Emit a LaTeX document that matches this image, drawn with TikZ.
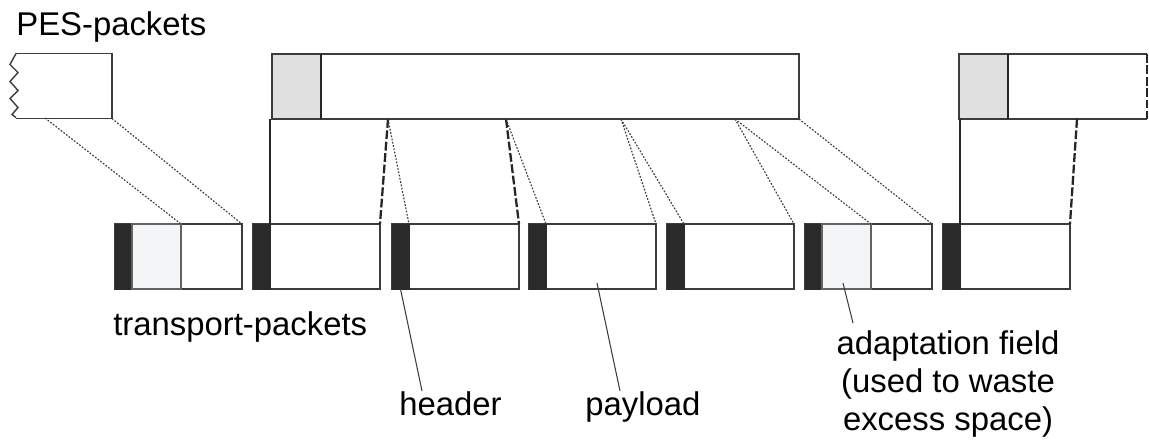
\documentclass[tikz,border=0pt]{standalone}
\usepackage{fontspec}
\setmainfont{Liberation Sans}
\usetikzlibrary{positioning}
\definecolor{hdrblack}{RGB}{42,42,42}
\definecolor{pesgray}{RGB}{224,224,224}
\definecolor{adaptgray}{RGB}{244,245,247}
\definecolor{edgegray}{RGB}{60,60,60}

\begin{document}
\begin{tikzpicture}[x=0.02cm, y=-0.02cm,
        pkt/.style={draw=edgegray, line width=0.8pt, fill=white, minimum width=2.54cm, minimum height=1.3cm, inner sep=0pt, outer sep=0pt},
        hdr/.style={fill=hdrblack, draw=hdrblack, line width=0.4pt, minimum width=0.34cm, minimum height=1.3cm, inner sep=0pt, outer sep=0pt, anchor=west},
        adapt/.style={fill=adaptgray, draw=edgegray!80, line width=0.6pt, minimum width=0.98cm, minimum height=1.3cm, inner sep=0pt, outer sep=0pt, anchor=west},
        pes/.style={fill=white, minimum height=1.3cm, inner sep=0pt, outer sep=0pt},
        peshdr/.style={fill=pesgray, draw=edgegray, line width=0.8pt, minimum width=0.98cm, minimum height=1.3cm, inner sep=0pt, outer sep=0pt, anchor=west},
        edge/.style={edgegray, line width=0.8pt},
        lbl/.style={font=\fontsize{18.7}{21.6}\selectfont, inner sep=0pt},
        dotline/.style={edgegray, line width=0.65pt, dash pattern=on 1pt off 0.9pt},
        cutline/.style={black!85, line width=1.3pt, dash pattern=on 5pt off 1.5pt},
        solidline/.style={black!85, line width=1.3pt},
        leader/.style={edgegray, line width=0.6pt}
    ]
    \useasboundingbox (0,0) rectangle (1149,440);

    % PES packets
    \node[pes, minimum width=1.92cm] (pes1) at (64,86) {};
    \draw[edge] (pes1.north west) -- (pes1.north east) -- (pes1.south east) -- (pes1.south west);
    \draw[edge] (pes1.north west) -- ++(-6,11) -- ++(8,8) -- ++(-8,9) -- ++(8,9)
        -- ++(-8,8) -- ++(8,9) -- ++(-6,7) -- ++(4,3);

    \node[pes, draw=edgegray, line width=0.8pt, minimum width=10.54cm] (pes2) at (535.5,86.5) {};
    \node[peshdr] (phd2) at (pes2.west) {};
    \draw[solidline] (phd2.north east) -- (phd2.south east);

    \node[pes, minimum width=3.76cm] (pes3) at (1053,86.5) {};
    \node[peshdr] (phd3) at (pes3.west) {};
    \draw[edge] (pes3.north east) -- (phd3.north west) -- (phd3.south west) -- (pes3.south east);
    \draw[solidline] (phd3.north east) -- (phd3.south east);
    \draw[cutline] (pes3.north east) -- (pes3.south east);

    % transport packets
    \node[pkt] (tp1) at (178.5,256.5) {};
    \node[pkt] (tp2) at (316.5,256.5) {};
    \node[pkt] (tp3) at (455.5,256.5) {};
    \node[pkt] (tp4) at (592.5,256.5) {};
    \node[pkt] (tp5) at (730.5,256.5) {};
    \node[pkt] (tp6) at (868.5,256.5) {};
    \node[pkt] (tp7) at (1006.5,256.5) {};
    \node[hdr] (hdr1) at (tp1.west) {};
    \node[hdr] (hdr2) at (tp2.west) {};
    \node[hdr] (hdr3) at (tp3.west) {};
    \node[hdr] (hdr4) at (tp4.west) {};
    \node[hdr] (hdr5) at (tp5.west) {};
    \node[hdr] (hdr6) at (tp6.west) {};
    \node[hdr] (hdr7) at (tp7.west) {};
    \node[adapt] (af1) at (hdr1.east) {};
    \node[adapt] (af6) at (hdr6.east) {};

    % split points on the PES packets
    \coordinate (cut0) at (45,118);
    \coordinate (s1) at (388,119);
    \coordinate (s2) at (506,119);
    \coordinate (s3) at (621,119);
    \coordinate (s4) at (735,119);
    \coordinate (cut3) at (1077,119);

    \draw[dotline] (cut0) -- (af1.north east);
    \draw[dotline] (pes1.south east) -- (tp1.north east);

    \draw[solidline] (hdr2.north east |- pes2.south) -- (hdr2.north east);
    \draw[cutline] (s1) -- (tp2.north east);
    \draw[dotline] (s1) -- (hdr3.north east);
    \draw[cutline] (s2) -- (tp3.north east);
    \draw[dotline] (s2) -- (hdr4.north east);
    \draw[dotline] (s3) -- (tp4.north east);
    \draw[dotline] (s3) -- (hdr5.north east);
    \draw[dotline] (s4) -- (tp5.north east);
    \draw[dotline] (s4) -- (af6.north east);
    \draw[dotline] (pes2.south east) -- (tp6.north east);

    \draw[solidline] (hdr7.north east |- pes3.south) -- (hdr7.north east);
    \draw[cutline] (cut3) -- (tp7.north east);

    % labels
    \node[lbl, anchor=base west] (peslab) at (16,35) {PES-packets};
    \node[lbl, anchor=base west] (tplab) at (113,335) {transport-packets};
    \node[lbl, anchor=base west] (hlab) at (399,415) {header};
    \node[lbl, anchor=base west] (plab) at (585,415) {payload};
    \node[lbl, align=center, anchor=north] (alab) at (948,330) {adaptation field\\(used to waste\\excess space)};

    \coordinate (hend) at (422,391);
    \coordinate (pstart) at (597,283);
    \coordinate (pend) at (620,391);
    \coordinate (astart) at (843,283);
    \coordinate (aend) at (853,323);
    \draw[leader] (hdr3.south) -- (hend);
    \draw[leader] (pstart) -- (pend);
    \draw[leader] (astart) -- (aend);
\end{tikzpicture}
\end{document}
